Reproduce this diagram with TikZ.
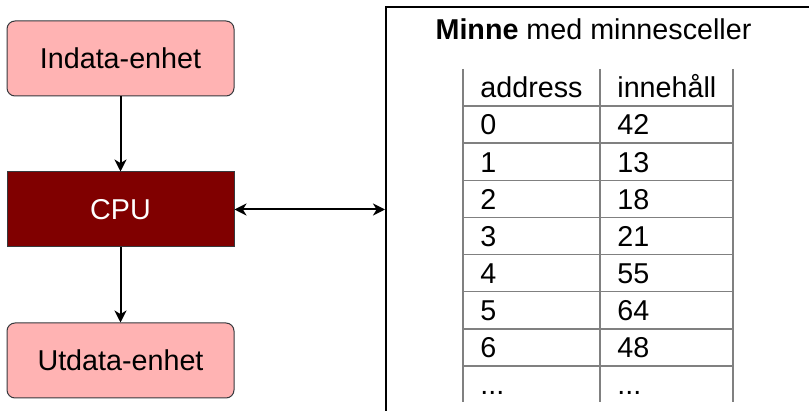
\documentclass[tikz,border=0pt]{standalone}
\usepackage{fontspec}
\setmainfont{Liberation Sans}
\usetikzlibrary{arrows.meta}

\definecolor{ljusrod}{HTML}{FFB3B3}
\definecolor{morkrod}{HTML}{800000}
\definecolor{kant}{HTML}{36393D}

\newcommand\prickar{...}

\tikzset{
  enhet/.style={draw=kant, line width=0.5pt, fill=ljusrod, rounded corners=4pt,
    minimum width=113.5pt, minimum height=37.5pt},
  cpubox/.style={draw=kant, line width=0.5pt, fill=morkrod, text=white,
    minimum width=113.5pt, minimum height=37.5pt},
  spets/.tip={Stealth[length=6pt,width=6pt,inset=1.8pt]},
  pil/.style={line width=1pt, -spets},
  dubbelpil/.style={line width=1pt, spets-spets},
  tabell/.style={line width=0.75pt, draw=gray},
  cell/.style={anchor=base west, inner sep=0pt}
}

\begin{document}
\begin{tikzpicture}[x=0.5pt, y=-0.5pt, font=\fontsize{14.35}{17}\selectfont]
  \useasboundingbox (0,0) rectangle (809,411);
  \clip (0,0) rectangle (809,411);

  % enheter till vanster
  \node[enhet] (indata) at (120.5,58.5) {Indata-enhet};
  \node[cpubox] (cpu) at (120.5,209.5) {CPU};
  \node[enhet] (utdata) at (120.5,360.5) {Utdata-enhet};

  \draw[pil] (indata) -- (cpu);
  \draw[pil] (cpu) -- (utdata);

  % minnet, ramen gar utanfor kanten
  \node[draw, line width=1pt, anchor=north west, minimum width=232.5pt,
    minimum height=222pt, inner sep=0pt] (minne) at (385,6) {};
  \draw[dubbelpil] (cpu) -- (cpu -| minne.west);

  \node[anchor=base, inner sep=0pt] (rubrik) at (593.5,40) {\textbf{Minne} med minnesceller};

  % tabellen
  \foreach \x in {463,600,733}
    \draw[tabell] (\x,69) -- (\x,402);
  \foreach \k in {0,...,7}
    \draw[tabell] (463,106+37.14*\k) -- (733,106+37.14*\k);

  \foreach \adr/\inn [count=\i from 0] in {address/innehåll,0/42,1/13,2/18,3/21,4/55,5/64,6/48,\prickar/\prickar} {
    \node[cell] (adr\i) at (480,97.8+37.14*\i) {\adr};
    \node[cell] (inn\i) at (617,97.8+37.14*\i) {\inn};
  }
\end{tikzpicture}
\end{document}
